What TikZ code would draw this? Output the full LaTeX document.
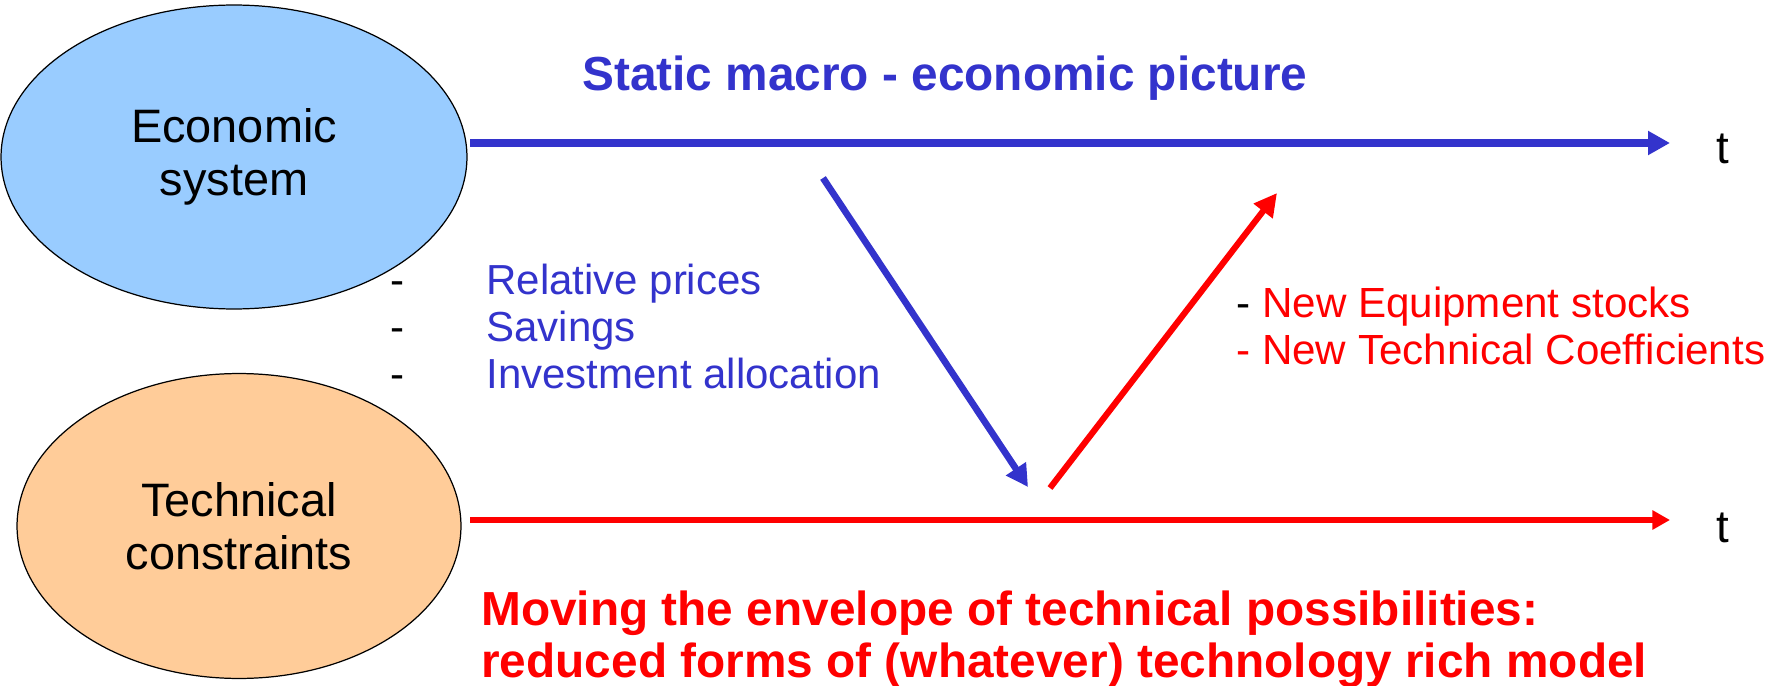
\documentclass[tikz,border=0pt]{standalone}
\usepackage{fontspec}
\setmainfont{Liberation Sans}
\usepackage{xcolor}
\usepackage{tikz}
\usetikzlibrary{arrows.meta, positioning, shapes.geometric}

\definecolor{ecoblue}{HTML}{99CCFF}
\definecolor{techorange}{HTML}{FFCC99}
\definecolor{flowblue}{HTML}{3333CC}
\definecolor{flowred}{HTML}{FF0000}

\begin{document}
\begin{tikzpicture}[x=0.02cm, y=-0.02cm,
    bubble/.style={ellipse, draw=black, line width=0.7pt, inner sep=0pt, align=center,
        font=\fontsize{26.7}{30.2}\selectfont},
    plain/.style={inner sep=0pt, anchor=base west, align=left},
    bluearrow/.style={draw=flowblue, line width=4pt, -{Triangle[length=12.5pt, width=13pt]}},
    redarrow/.style={draw=flowred, line width=3.5pt, -{Triangle[length=13pt, width=13pt]}},
    tlabel/.style={inner sep=0pt, anchor=base, font=\fontsize{26}{30}\selectfont}]
    \useasboundingbox (0,0) rectangle (1782,686);

    % links: die beiden Systeme
    \node[bubble, fill=ecoblue, minimum width=9.32cm, minimum height=6.08cm] (eco) at (234,157) {Economic\\system};
    \node[bubble, fill=techorange, minimum width=8.88cm, minimum height=6.1cm] (tech) at (239,526) {Technical\\constraints};

    % Titel
    \node[plain, text=flowblue, font=\bfseries\fontsize{27.2}{30}\selectfont] (title) at (582,91) {Static macro - economic picture};

    % Zeitachsen
    \coordinate (ecoOut) at (470,143);
    \coordinate (ecoEnd) at (1670,143);
    \draw[bluearrow] (ecoOut) -- (ecoEnd);
    \node[tlabel] (tTop) at (1723,163) {t};

    \coordinate (techOut) at (470,520);
    \coordinate (techEnd) at (1670,520);
    \draw[redarrow, line width=3.3pt, -{Triangle[length=10pt, width=10.5pt]}] (techOut) -- (techEnd);
    \node[tlabel] (tBottom) at (1723,542) {t};

    % Signale nach unten (base = letzte Zeile)
    \node[plain, font=\fontsize{23.9}{26.7}\selectfont] (dashes) at (390,388) {-\\-\\-};
    \node[plain, text=flowblue, font=\fontsize{23.9}{26.7}\selectfont] (signals) at (486,388) {Relative prices\\Savings\\Investment allocation};
    \coordinate (downStart) at (823,178);
    \coordinate (downEnd) at (1028,487);
    \draw[bluearrow, line width=3.8pt] (downStart) -- (downEnd);

    % Rueckkopplung nach oben
    \coordinate (upStart) at (1050,488);
    \coordinate (upEnd) at (1277,193);
    \draw[redarrow] (upStart) -- (upEnd);
    \node[plain, text=flowred, font=\fontsize{24}{26.2}\selectfont] (feedback) at (1236,364) {{\color{black}-} New Equipment stocks\\- New Technical Coefficients};

    % unten
    \node[plain, text=flowred, font=\bfseries\fontsize{27.2}{29.6}\selectfont] (envelope) at (481,677) {Moving the envelope of technical possibilities:\\reduced forms of (whatever) technology rich model};
\end{tikzpicture}
\end{document}
